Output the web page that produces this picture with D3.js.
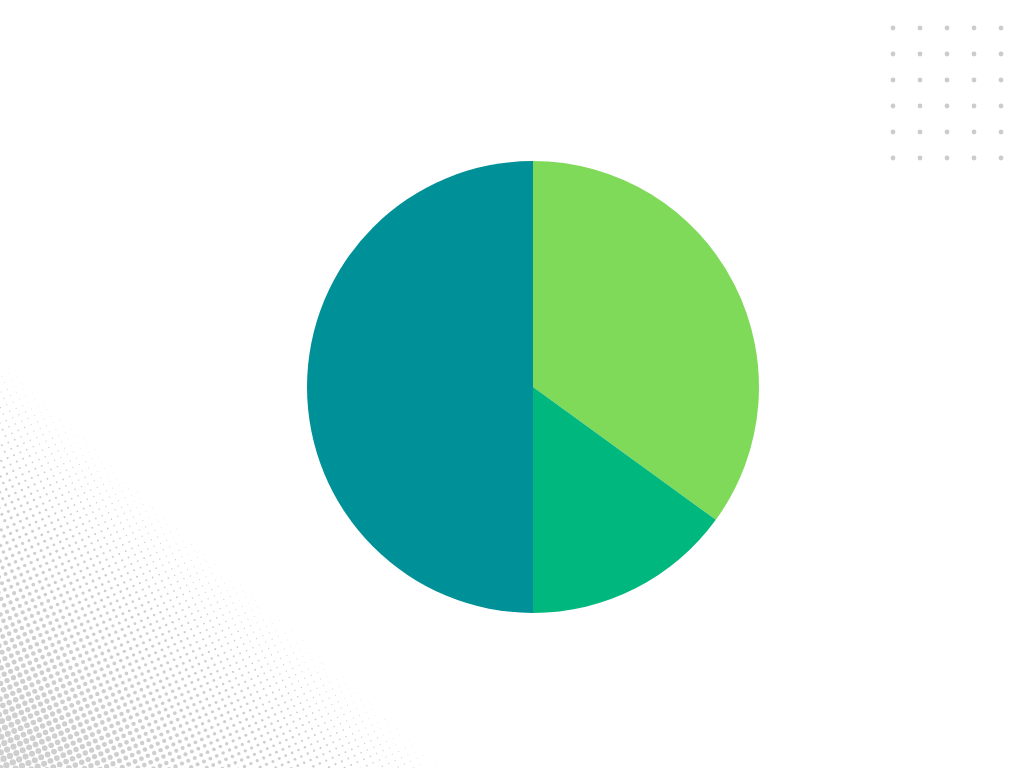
<!DOCTYPE html>
<html>
<head>
<meta charset="utf-8">
<script src="https://cdn.jsdelivr.net/npm/d3@7"></script>
<style>
  html, body { margin: 0; padding: 0; background: #ffffff; }
  svg { display: block; }
</style>
</head>
<body>
<svg id="chart" width="1024" height="768"></svg>
<script>
const categories = ["A", "B", "C"];
const values = [35, 15, 50];
const colors = ["#80DA59", "#00B77E", "#009097"];

const svg = d3.select("#chart");
const W = 1024, H = 768;

// decorative halftone (bottom-left)
const deco = svg.append("g");
const ang = -24 * Math.PI / 180, sp = 7;
const p0 = [0, 335], dir = [470, 433], L = Math.hypot(dir[0], dir[1]);
const dots = [];
for (let i = -150; i < 150; i++) {
  for (let j = -150; j < 150; j++) {
    const u = i * sp, v = j * sp;
    const x = u * Math.cos(ang) - v * Math.sin(ang);
    const y = 768 + u * Math.sin(ang) + v * Math.cos(ang);
    if (x < -4 || x > W || y < 0 || y > H + 4) continue;
    const d = (dir[0] * (y - p0[1]) - dir[1] * (x - p0[0])) / L;
    if (d <= 0) continue;
    const r = 3.3 * Math.pow(d / 320, 0.85);
    if (r < 0.3) continue;
    dots.push([x, y, Math.min(r, 3.4)]);
  }
}
deco.selectAll("circle").data(dots).join("circle")
  .attr("cx", d => d[0]).attr("cy", d => d[1]).attr("r", d => d[2])
  .attr("fill", "#cfcfcf");

// dot grid (top-right)
const gx = d3.range(5), gy = d3.range(6);
const grid = svg.append("g");
gx.forEach(i => gy.forEach(j => {
  grid.append("circle").attr("cx", 893 + i * 27).attr("cy", 28 + j * 26)
    .attr("r", 2.4).attr("fill", "#cccccc");
}));

// pie
const cx = 533, cy = 387, R = 226;
const pie = d3.pie().sort(null).value(d => d)(values);
const arc = d3.arc().innerRadius(0).outerRadius(R);
svg.append("g").attr("transform", `translate(${cx},${cy})`)
  .selectAll("path").data(pie).join("path")
  .attr("d", arc)
  .attr("fill", (d, i) => colors[i]);
</script>
</body>
</html>
